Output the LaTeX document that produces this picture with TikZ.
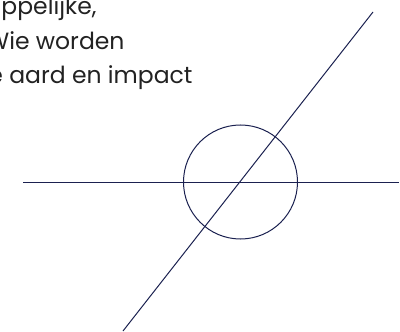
\documentclass[tikz,border=0pt]{standalone}
\usepackage{fontspec}
\setmainfont{Poppins}
\usepackage{xcolor}
\definecolor{navy}{HTML}{1B2150}
\definecolor{ink}{HTML}{222222}

\begin{document}
\begin{tikzpicture}[
    x=1pt, y=-1pt,
    line width=1pt,
    txt/.style={anchor=base east, inner sep=0pt, text=ink,
        font=\fontsize{23.5}{35}\selectfont}
]

\useasboundingbox (0,0) rectangle (400,332);
\begin{scope}
\clip (0,0) rectangle (400,332);

% Text (cut off at the left)
\node[txt] (line1) at (97,14) {ppelijke,};
\node[txt] (line2) at (125,49) {Wie worden};
\node[txt] (line3) at (193,84) {e aard en impact};
\end{scope}

% Centre and ends of the lines
\coordinate (mid) at (240.5,182);
\coordinate (left) at (23,182);
\coordinate (right) at (399,182);
\coordinate (top) at (373,12);
\coordinate (bottom) at (123,331);

% Circle
\node[circle, draw=navy, minimum size=114pt, inner sep=0pt] (ring) at (mid) {};

% Lines
\draw[navy] (left) -- (right);
\draw[navy] (bottom) -- (top);

\end{tikzpicture}
\end{document}
